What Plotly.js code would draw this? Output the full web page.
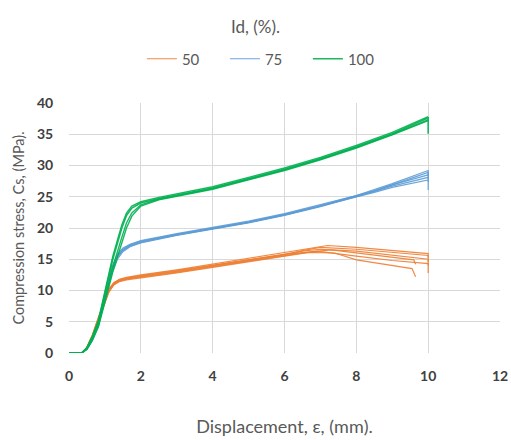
<!DOCTYPE html>
<html>
<head>
<meta charset="utf-8">
<script src="https://cdn.plot.ly/plotly-3.0.1.min.js"></script>
<style>html,body{margin:0;padding:0;background:#fff;}#chart{width:511px;height:440px;}</style>
</head>
<body>
<div id="chart"></div>
<script>
// ---- data ----
const x50a = [0, 0.38, 0.5, 0.65, 0.8, 0.95, 1.1, 1.25, 1.4, 1.6, 2, 3, 4, 5, 6, 6.6, 7.2, 8, 9, 10, 10];
const y50a = [0, 0, 0.9, 2.7, 5.2, 7.6, 10, 11.2, 11.8, 12.1, 12.5, 13.3, 14.2, 15.1, 16.0, 16.6, 17.2, 16.9, 16.4, 15.9, 15.3];
const x50b = [0, 0.38, 0.5, 0.65, 0.8, 0.95, 1.1, 1.25, 1.4, 1.6, 2, 3, 4, 5, 6, 6.6, 7.0, 8, 9, 10, 10];
const y50b = [0, 0, 0.7, 2.4, 4.8, 7.2, 9.6, 11.0, 11.6, 11.9, 12.3, 13.1, 14.0, 14.9, 15.8, 16.5, 16.9, 16.6, 16.1, 15.6, 12.8];
const x50c = [0, 0.38, 0.5, 0.65, 0.8, 0.95, 1.1, 1.25, 1.4, 1.6, 2, 3, 4, 5, 6, 6.6, 7.3, 8, 9, 9.6, 9.65];
const y50c = [0, 0, 0.9, 2.8, 5.3, 7.8, 10.1, 11.1, 11.5, 11.8, 12.1, 12.9, 13.8, 14.7, 15.6, 16.1, 16.5, 16.0, 15.4, 14.9, 14.2];
const x50d = [0, 0.38, 0.5, 0.65, 0.8, 0.95, 1.1, 1.25, 1.4, 1.6, 2, 3, 4, 5, 6, 6.5, 6.9, 8, 9, 10, 10];
const y50d = [0, 0, 0.8, 2.6, 5.0, 7.4, 9.8, 10.9, 11.4, 11.7, 12.0, 12.8, 13.7, 14.6, 15.5, 16.0, 16.3, 15.5, 14.8, 14.3, 14.0];
const x50e = [0, 0.38, 0.5, 0.65, 0.8, 0.95, 1.1, 1.25, 1.4, 1.6, 2, 3, 4, 5, 6, 6.6, 7.4, 8, 9, 9.55, 9.65];
const y50e = [0, 0, 1.0, 2.9, 5.4, 7.9, 10.2, 11.3, 11.7, 12.0, 12.4, 13.2, 14.1, 15.0, 15.8, 16.1, 16.0, 14.9, 14.0, 13.5, 12.2];
const x50f = [0, 0.38, 0.5, 0.65, 0.8, 0.95, 1.1, 1.25, 1.4, 1.6, 2, 3, 4, 5, 6, 6.5, 7.0, 8, 9, 10, 10];
const y50f = [0, 0, 0.8, 2.5, 4.9, 7.3, 9.7, 11.0, 11.6, 11.9, 12.2, 13.0, 13.9, 14.8, 15.7, 16.3, 16.6, 16.3, 15.7, 15.0, 14.6];

const x75 = [0, 0.35, 0.5, 0.65, 0.82, 1.02, 1.2, 1.35, 1.5, 1.7, 2, 3, 4, 5, 6, 7, 8, 8.5, 9, 10, 10];
const y75a = [0, 0, 0.7, 2.3, 4.8, 9.5, 13.5, 15.6, 16.6, 17.3, 17.9, 19.0, 20.0, 21.0, 22.2, 23.6, 25.2, 26.1, 27.1, 29.2, 26.1];
const y75b = [0, 0, 0.6, 2.1, 4.5, 9.1, 13.1, 15.3, 16.4, 17.1, 17.7, 18.9, 19.9, 20.9, 22.1, 23.5, 25.1, 25.9, 26.9, 28.9, 28.4];
const y75c = [0, 0, 0.8, 2.5, 5.0, 9.8, 13.8, 15.8, 16.8, 17.4, 18.0, 19.1, 20.1, 21.1, 22.3, 23.7, 25.2, 26.0, 26.9, 28.5, 28.2];
const y75d = [0, 0, 0.6, 2.0, 4.3, 8.8, 12.8, 15.0, 16.2, 17.0, 17.6, 18.8, 19.8, 20.8, 22.0, 23.4, 25.0, 25.8, 26.7, 28.1, 27.8];
const y75e = [0, 0, 0.7, 2.2, 4.6, 9.3, 13.3, 15.5, 16.5, 17.2, 17.8, 18.9, 19.9, 20.9, 22.1, 23.5, 25.0, 25.7, 26.5, 27.7, 27.4];

const x100 = [0, 0.35, 0.5, 0.65, 0.82, 1.02, 1.22, 1.47, 1.6, 1.75, 2.0, 2.5, 3, 4, 5, 6, 7, 8, 9, 10, 10];
const y100a = [0, 0, 0.8, 2.5, 5.0, 10.0, 15.0, 20.0, 22.0, 23.2, 24.0, 24.7, 25.3, 26.4, 27.9, 29.4, 31.1, 33.0, 35.1, 37.6, 35.1];
const y100b = [0, 0, 0.7, 2.2, 4.5, 9.2, 13.8, 18.5, 20.8, 22.4, 23.7, 24.6, 25.2, 26.3, 27.8, 29.3, 31.0, 32.9, 35.0, 37.3, 37.3];
const y100c = [0, 0, 0.9, 2.7, 5.3, 10.4, 15.5, 20.5, 22.4, 23.5, 24.2, 24.9, 25.5, 26.6, 28.1, 29.6, 31.3, 33.2, 35.3, 37.8, 37.8];
const y100d = [0, 0, 0.6, 2.0, 4.2, 8.6, 13.0, 17.6, 20.0, 21.9, 23.5, 24.5, 25.1, 26.2, 27.7, 29.2, 30.9, 32.8, 34.9, 37.2, 37.2];

const xTicks = [0, 2, 4, 6, 8, 10, 12];
const yTicks = [0, 5, 10, 15, 20, 25, 30, 35, 40];

// ---- styles ----
const C50 = '#ED7D31', C75 = '#5B9BD5', C100 = '#00B050';
function tr(x, y, name, color, width, show) {
  return {x: x, y: y, type: 'scatter', mode: 'lines', name: name, legendgroup: name,
          showlegend: show, line: {color: color, width: width}, opacity: 0.9, hoverinfo: 'skip'};
}
const traces = [
  tr(x50a, y50a, '50', C50, 1.2, true),
  tr(x50b, y50b, '50', C50, 1.2, false),
  tr(x50c, y50c, '50', C50, 1.2, false),
  tr(x50d, y50d, '50', C50, 1.2, false),
  tr(x50e, y50e, '50', C50, 1.2, false),
  tr(x50f, y50f, '50', C50, 1.2, false),
  tr(x75, y75a, '75', C75, 1.2, true),
  tr(x75, y75b, '75', C75, 1.2, false),
  tr(x75, y75c, '75', C75, 1.2, false),
  tr(x75, y75d, '75', C75, 1.2, false),
  tr(x75, y75e, '75', C75, 1.2, false),
  tr(x100, y100a, '100', C100, 1.6, true),
  tr(x100, y100b, '100', C100, 1.4, false),
  tr(x100, y100c, '100', C100, 1.4, false),
  tr(x100, y100d, '100', C100, 1.4, false)
];

const FONT = 'Lato, "Open Sans", sans-serif';
const GREY = '#595959';
const TICKC = '#404040';
const layout = {
  width: 511, height: 440,
  margin: {l: 69, r: 11, t: 103, b: 87},
  paper_bgcolor: '#fff', plot_bgcolor: '#fff',
  font: {family: FONT, color: GREY, size: 13},
  title: {text: 'Id, (%).', x: 0.5, xanchor: 'center', y: 0.938, yanchor: 'middle', font: {size: 17, color: GREY}},
  showlegend: true,
  legend: {orientation: 'h', x: 0.458, xanchor: 'center', y: 1.176, yanchor: 'middle',
           font: {size: 15, color: GREY}, traceorder: 'normal', entrywidth: 38, entrywidthmode: 'pixels'},
  xaxis: {range: [0, 12], tickvals: xTicks, ticktext: xTicks.map(String), showgrid: true, gridcolor: '#d9d9d9',
          zeroline: false, showline: false, ticks: 'outside', ticklen: 10, tickcolor: 'rgba(0,0,0,0)',
          tickfont: {size: 14, color: TICKC, weight: 'bold'},
          title: {text: 'Displacement, ε, (mm).', font: {size: 18, color: GREY}, standoff: 37}},
  yaxis: {range: [0, 40], tickvals: yTicks, ticktext: yTicks.map(String), showgrid: true, gridcolor: '#d9d9d9',
          zeroline: false, showline: false, ticks: 'outside', ticklen: 12, tickcolor: 'rgba(0,0,0,0)',
          tickfont: {size: 14, color: TICKC, weight: 'bold'},
          title: {text: 'Compression stress, Cs, (MPa).', font: {size: 14.5, color: GREY}, standoff: 8}}
};
Plotly.newPlot('chart', traces, layout, {displayModeBar: false, staticPlot: true});
</script>
</body>
</html>
